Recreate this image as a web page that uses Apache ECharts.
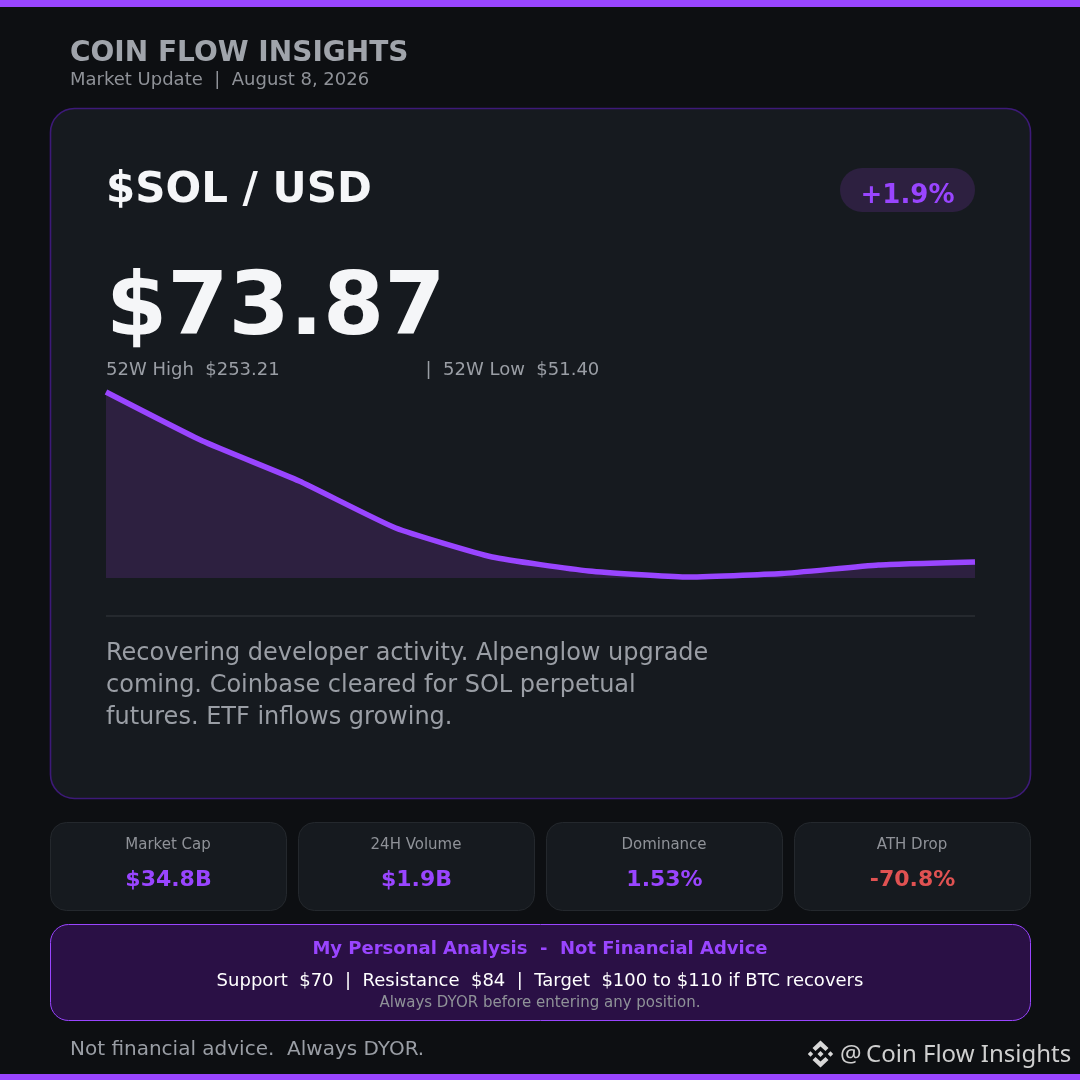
<!DOCTYPE html>
<html>
<head>
<meta charset="utf-8">
<style>html,body{margin:0;padding:0;background:#0d0f12}#c{width:1080px;height:1080px}</style>
<script src="https://cdn.jsdelivr.net/npm/echarts@6/dist/echarts.min.js"></script>
</head>
<body>
<div id="c"></div>
<script>
var categories = ['1','2','3','4','5','6','7','8','9','10'];
var priceValues = [158.5, 134, 114, 90.5, 76, 69, 66, 67.7, 72, 73.5];
var statLabels = ['Market Cap','24H Volume','Dominance','ATH Drop'];
var statValues = ['$34.8B','$1.9B','1.53%','-70.8%'];
var descLines = ['Recovering developer activity. Alpenglow upgrade','coming. Coinbase cleared for SOL perpetual','futures. ETF inflows growing.'];

var PURPLE='#9945ff', SANS='"DejaVu Sans"';
function txt(x,y,s,size,fill,weight,align,family){
  return {type:'text',x:x,y:y,silent:true,style:{text:s,fill:fill,font:(weight||'normal')+' '+size+'px '+(family||SANS),textAlign:align||'left',textVerticalAlign:'middle'}};
}
function box(x,y,w,h,r,fill,stroke,lw){
  return {type:'rect',shape:{x:x,y:y,width:w,height:h,r:r},silent:true,style:{fill:fill,stroke:stroke||null,lineWidth:lw||0}};
}
function poly(pts,fill){return {type:'polygon',shape:{points:pts},silent:true,style:{fill:fill}};}

var g=[];
g.push(box(0,0,1080,7,0,PURPLE));
g.push(box(0,1074,1080,6,0,PURPLE));
g.push(txt(70,54,'COIN FLOW INSIGHTS',28,'#a0a4ab','bold'));
g.push(txt(70,80,'Market Update  |  August 8, 2026',18,'#8f9298'));
g.push(box(50.5,108.5,980,690,24,'#161a1f','#3d1a78',1.6));
g.push(txt(106,191,'$SOL / USD',42,'#f5f6f8','bold'));
g.push(box(840,168,135,44,22,'#2d2040'));
g.push(txt(907.5,196,'+1.9%',26,PURPLE,'bold','center'));
g.push(txt(106,311,'$73.87',88,'#f5f6f8','bold'));
g.push(txt(106,370,'52W High  $253.21',18,'#9a9ea5'));
g.push(txt(425.5,370,'|  52W Low  $51.40',18,'#9a9ea5'));
g.push(box(106,615,869,2,0,'#25292e'));
descLines.forEach(function(s,i){g.push(txt(106,654+32*i,s,24,'#9a9ea5'));});
statLabels.forEach(function(s,i){
  var x=50.5+248*i;
  g.push(box(x,822.5,236,88,16,'#161a1f','#24282d',1));
  g.push(txt(x+117.5,845,s,15,'#8f9298','normal','center'));
  g.push(txt(x+118,880,statValues[i],22,i===3?'#e05252':PURPLE,'bold','center'));
});
g.push(box(50.5,924.5,980,96,18,'#2a1045',PURPLE,1));
g.push(txt(540,949,'My Personal Analysis  -  Not Financial Advice',18,PURPLE,'bold','center'));
g.push(txt(540,981,'Support  $70  |  Resistance  $84  |  Target  $100 to $110 if BTC recovers',18,'#ffffff','normal','center'));
g.push(txt(540,1003,'Always DYOR before entering any position.',15,'#8f9298','normal','center'));
g.push(txt(70,1050,'Not financial advice.  Always DYOR.',20,'#9a9ea5'));
g.push(txt(840,1055.5,'@',24,'#cfcfcf','normal','left','"Noto Sans"'));
g.push(txt(866,1055.5,'Coin Flow Insights',24,'#cfcfcf','normal','left','"Noto Sans"'));
// exchange logo
var lc='#d8d8d8';
g.push(poly([[820.5,1040.5],[828.5,1048],[825.5,1051],[820.5,1046.5],[815.5,1051],[812.5,1048]],lc));
g.push(poly([[820.5,1067.5],[812.5,1060],[815.5,1057],[820.5,1061.5],[825.5,1057],[828.5,1060]],lc));
g.push(poly([[820.5,1051],[823.5,1054],[820.5,1057],[817.5,1054]],lc));
g.push(poly([[810.5,1051.3],[813.2,1054],[810.5,1056.7],[807.8,1054]],lc));
g.push(poly([[830.5,1051.3],[833.2,1054],[830.5,1056.7],[827.8,1054]],lc));

var chart=echarts.init(document.getElementById('c'),null,{renderer:'canvas'});
chart.setOption({
  backgroundColor:'#0d0f12',
  animation:false,
  graphic:{elements:g},
  grid:{left:106,top:393,width:869,height:185,containLabel:false},
  xAxis:{type:'category',data:categories,boundaryGap:false,show:false},
  yAxis:{type:'value',min:65.5,max:158,show:false},
  tooltip:{show:false},
  series:[{
    type:'line',data:priceValues,showSymbol:false,smooth:0.15,clip:false,
    lineStyle:{color:PURPLE,width:5.5,join:'round',cap:'butt'},
    areaStyle:{color:'#2d2040',opacity:1}
  }]
});
</script>
</body>
</html>
